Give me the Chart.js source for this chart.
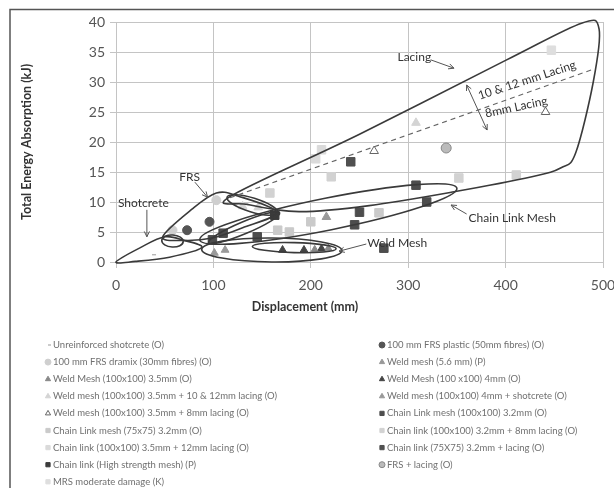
<!DOCTYPE html>
<html lang="en">
<head>
<meta charset="UTF-8">
<title>Energy absorption vs displacement</title>
<script src="https://cdn.jsdelivr.net/npm/chart.js@4.4.1/dist/chart.umd.min.js"></script>
<style>
  body { margin: 0; background: #fff; }
  .wrap { position: relative; width: 614px; height: 488px; }
</style>
</head>
<body>
<div class="wrap"><canvas id="myChart"></canvas></div>
<script>
// series as [displacement mm, energy kJ]
const unreinforcedShotcrete = [[37, 1.2]];
const frsPlastic = [[73, 5.3], [96, 6.7]];
const frsDramix = [[103, 10.3], [58, 5.3]];
const weldMesh56 = [[101, 1.5], [112, 2.0]];
const weldMesh35 = [[204, 2.1], [218, 2.3]];
const weldMesh4 = [[171, 2.0], [193, 2.0], [211, 2.2]];
const weld35Lacing1012 = [[308, 23.2], [130, 9.3], [146, 9.1]];
const weld4Shotcrete = [[216, 7.5]];
const weld35Lacing8 = [[265, 18.5], [441, 25.0]];
const chain100 = [[99, 3.7], [110, 4.8], [145, 4.2], [245, 6.2], [250, 8.3], [275, 2.3], [308, 12.8], [319, 10.0]];
const chain75 = [[166, 5.3], [178, 5.0], [270, 8.2], [200, 6.7]];
const chain100Lacing8 = [[158, 11.5], [221, 14.2], [352, 14.0], [411, 14.5]];
const chain100Lacing12 = [[205, 17.2], [211, 18.7]];
const chain75Lacing = [[241, 16.7]];
const chainHighStrength = [[163, 7.8]];
const frsLacing = [[339, 19.0]];
const mrsModerate = [[447, 35.3]];

const seriesLabels = [
  'Unreinforced shotcrete (O)',
  '100 mm FRS plastic (50mm fibres) (O)',
  '100 mm FRS dramix (30mm fibres) (O)',
  'Weld mesh (5.6 mm) (P)',
  'Weld Mesh (100x100) 3.5mm (O)',
  'Weld Mesh (100 x100) 4mm (O)',
  'Weld mesh (100x100) 3.5mm + 10 & 12mm lacing (O)',
  'Weld mesh (100x100) 4mm + shotcrete (O)',
  'Weld mesh (100x100) 3.5mm + 8mm lacing (O)',
  'Chain Link mesh (100x100) 3.2mm (O)',
  'Chain Link mesh (75x75) 3.2mm (O)',
  'Chain link (100x100) 3.2mm + 8mm lacing (O)',
  'Chain link (100x100) 3.5mm + 12mm lacing (O)',
  'Chain link (75X75) 3.2mm + lacing (O)',
  'Chain link (High strength mesh) (P)',
  'FRS + lacing (O)',
  'MRS moderate damage (K)'
];
const seriesData = [unreinforcedShotcrete, frsPlastic, frsDramix, weldMesh56, weldMesh35, weldMesh4,
  weld35Lacing1012, weld4Shotcrete, weld35Lacing8, chain100, chain75, chain100Lacing8,
  chain100Lacing12, chain75Lacing, chainHighStrength, frsLacing, mrsModerate];

const xTicks = [0, 100, 200, 300, 400, 500];
const yTicks = [0, 5, 10, 15, 20, 25, 30, 35, 40];

// marker looks per series: [pointStyle, fill, border, radius]
const looks = [
  ['dash', '#999', '#999', 4],
  ['circle', '#555', '#555', 4.5],
  ['circle', '#cfcfcf', '#cfcfcf', 4.5],
  ['triangle', '#999', '#999', 4.5],
  ['triangle', '#888', '#888', 4],
  ['triangle', '#444', '#444', 4.5],
  ['triangle', '#d4d4d4', '#d4d4d4', 5],
  ['triangle', '#999', '#999', 5],
  ['triangle', '#fff', '#666', 5],
  ['rect', '#4d4d4d', '#4d4d4d', 6],
  ['rect', '#cacaca', '#cacaca', 6],
  ['rect', '#d2d2d2', '#d2d2d2', 6],
  ['rect', '#dadada', '#dadada', 6],
  ['rect', '#505050', '#505050', 6],
  ['rect', '#3c3c3c', '#3c3c3c', 6],
  ['circle', '#bbb', '#888', 5],
  ['rect', '#dedede', '#dedede', 6]
];

const datasets = seriesData.map((pts, i) => ({
  label: seriesLabels[i],
  data: pts.map(p => ({x: p[0], y: p[1]})),
  pointStyle: looks[i][0],
  backgroundColor: looks[i][1],
  borderColor: looks[i][2],
  pointRadius: looks[i][3],
  pointBorderWidth: 1
}));

// envelope outlines and notes, in chart units
const lacingShape = [[117, 10.9], [250, 21.3], [400, 33.6], [478, 39.8], [496, 38.8], [490, 30], [472, 18.2], [457, 15.7], [427, 14.2], [347, 11.7], [260, 9.4], [188, 8.4], [135, 9.6]];
const frsShape = [[48, 4.2], [78, 8.8], [103, 11.5], [125, 11.0], [165, 8.3], [130, 5.7], [99, 4.0], [70, 3.6]];
const shotcreteShape = [[0, 0], [25, 2.4], [50, 4.2], [70, 3.6], [88, 2.4], [55, 0.8], [20, 0.1]];
const ellipses = [
  [[47, 3.6], [69, 3.4], 6],
  [[88, 2.1], [232, 1.9], 12],
  [[140, 2.6], [226, 2.2], 5],
  [[86, 3.7], [350, 12.3], 16],
  [[114, 10.8], [166, 8.2], 7],
  [[95, 3.2], [168, 8.2], 6]
];
const lacingTrend = [[117, 10.7], [488, 32]];

function smoothClosed(ctx, pts) {
  const n = pts.length;
  ctx.moveTo(pts[0][0], pts[0][1]);
  for (let i = 0; i < n; i++) {
    const p0 = pts[(i - 1 + n) % n], p1 = pts[i], p2 = pts[(i + 1) % n], p3 = pts[(i + 2) % n];
    ctx.bezierCurveTo(p1[0] + (p2[0] - p0[0]) / 6, p1[1] + (p2[1] - p0[1]) / 6,
      p2[0] - (p3[0] - p1[0]) / 6, p2[1] - (p3[1] - p1[1]) / 6, p2[0], p2[1]);
  }
  ctx.closePath();
}

function arrow(ctx, a, b, both) {
  const head = (from, to) => {
    const ang = Math.atan2(to[1] - from[1], to[0] - from[0]);
    ctx.beginPath();
    ctx.moveTo(to[0] - 6 * Math.cos(ang - 0.45), to[1] - 6 * Math.sin(ang - 0.45));
    ctx.lineTo(to[0], to[1]);
    ctx.lineTo(to[0] - 6 * Math.cos(ang + 0.45), to[1] - 6 * Math.sin(ang + 0.45));
    ctx.stroke();
  };
  ctx.beginPath();
  ctx.moveTo(a[0], a[1]);
  ctx.lineTo(b[0], b[1]);
  ctx.stroke();
  head(a, b);
  if (both) head(b, a);
}

const notes = {
  id: 'notes',
  afterDatasetsDraw(chart) {
    const {ctx, scales: {x, y}} = chart;
    const P = p => [x.getPixelForValue(p[0]), y.getPixelForValue(p[1])];
    ctx.save();
    ctx.strokeStyle = '#3a3a3a';
    ctx.lineWidth = 1.6;
    [lacingShape, frsShape, shotcreteShape].forEach(s => {
      ctx.beginPath();
      smoothClosed(ctx, s.map(P));
      ctx.stroke();
    });
    ellipses.forEach(([a, b, half]) => {
      const [x1, y1] = P(a), [x2, y2] = P(b);
      ctx.beginPath();
      ctx.ellipse((x1 + x2) / 2, (y1 + y2) / 2, Math.hypot(x2 - x1, y2 - y1) / 2, half,
        Math.atan2(y2 - y1, x2 - x1), 0, Math.PI * 2);
      ctx.stroke();
    });
    // dashed trend between the two lacing sizes
    ctx.lineWidth = 1.1;
    ctx.strokeStyle = '#666';
    ctx.setLineDash([5, 4]);
    ctx.beginPath();
    ctx.moveTo(...P(lacingTrend[0]));
    ctx.lineTo(...P(lacingTrend[1]));
    ctx.stroke();
    ctx.setLineDash([]);

    ctx.strokeStyle = '#555';
    ctx.lineWidth = 1;
    arrow(ctx, P([323, 33.7]), P([347, 32.3]));
    arrow(ctx, P([81, 13.3]), P([94, 10.8]));
    arrow(ctx, P([31.7, 8.7]), P([31.7, 4.2]));
    arrow(ctx, P([360, 8.0]), P([344, 9.5]));
    arrow(ctx, P([257, 3.0]), P([229, 1.8]));
    arrow(ctx, P([360, 29.5]), P([381, 22]), true);

    ctx.fillStyle = '#333';
    ctx.font = '12px Lato';
    ctx.textBaseline = 'middle';
    ctx.textAlign = 'left';
    const txt = (s, p) => ctx.fillText(s, ...P(p));
    txt('Lacing', [289, 34.2]);
    txt('FRS', [65, 14.2]);
    txt('Shotcrete', [2, 9.8]);
    txt('Chain Link Mesh', [362, 7.3]);
    txt('Weld Mesh', [258, 3.1]);
    const rot = (s, p, deg) => {
      const [px, py] = P(p);
      ctx.save();
      ctx.translate(px, py);
      ctx.rotate(deg * Math.PI / 180);
      ctx.textAlign = 'center';
      ctx.fillText(s, 0, 0);
      ctx.restore();
    };
    rot('10 & 12 mm Lacing', [422, 30.3], -18);
    rot('8mm Lacing', [411, 25.8], -12);
    ctx.restore();
  }
};

const frameAndLegend = {
  id: 'frameAndLegend',
  beforeDraw(chart) {
    const ctx = chart.ctx;
    ctx.save();
    ctx.strokeStyle = '#555';
    ctx.lineWidth = 1.5;
    ctx.beginPath();
    ctx.moveTo(10, 488);
    ctx.lineTo(10, 9.5);
    ctx.lineTo(614, 9.5);
    ctx.stroke();
    ctx.restore();
  },
  afterDraw(chart) {
    const ctx = chart.ctx;
    ctx.save();
    // x axis title
    ctx.fillStyle = '#333';
    ctx.font = 'bold 12.5px Lato';
    ctx.textAlign = 'center';
    ctx.textBaseline = 'middle';
    ctx.fillText('Displacement (mm)', 305, 307);
    // two column legend
    ctx.font = '9.5px Lato';
    ctx.textAlign = 'left';
    chart.data.datasets.forEach((ds, i) => {
      const lx = i % 2 ? 382 : 48;
      const ly = 345 + Math.floor(i / 2) * 17.1;
      ctx.fillStyle = ds.backgroundColor;
      ctx.strokeStyle = ds.borderColor;
      ctx.lineWidth = 1;
      Chart.helpers.drawPoint(ctx, {pointStyle: ds.pointStyle, radius: 3, borderWidth: 1, rotation: 0}, lx, ly);
      ctx.fillStyle = '#707070';
      ctx.fillText(ds.label, lx + 5, ly);
    });
    ctx.restore();
  }
};

new Chart(document.getElementById('myChart'), {
  type: 'scatter',
  data: {datasets},
  options: {
    responsive: true,
    maintainAspectRatio: false,
    animation: false,
    layout: {padding: {left: 10, top: 22, right: 11, bottom: 164}},
    plugins: {legend: {display: false}, tooltip: {enabled: false}},
    scales: {
      x: {
        min: 0, max: 500,
        afterFit: s => { s.height = 62; s.paddingRight = 0; s.paddingLeft = 0; },
        afterBuildTicks: s => { s.ticks = xTicks.map(v => ({value: v})); },
        grid: {color: '#c4c4c4', tickLength: 6},
        border: {color: '#c4c4c4'},
        ticks: {color: '#555', padding: 9, font: {family: 'Lato', size: 14}}
      },
      y: {
        min: 0, max: 40,
        afterFit: s => { s.width = 106; },
        afterBuildTicks: s => { s.ticks = yTicks.map(v => ({value: v})); },
        grid: {color: '#c4c4c4', tickLength: 6},
        border: {color: '#c4c4c4'},
        ticks: {color: '#555', padding: 5, font: {family: 'Lato', size: 14}},
        title: {display: true, text: 'Total Energy Absorption (kJ)', color: '#333',
          font: {family: 'Lato', size: 12.5, weight: 'bold'}, padding: {top: 9, bottom: 0}}
      }
    }
  },
  plugins: [notes, frameAndLegend]
});
</script>
</body>
</html>
